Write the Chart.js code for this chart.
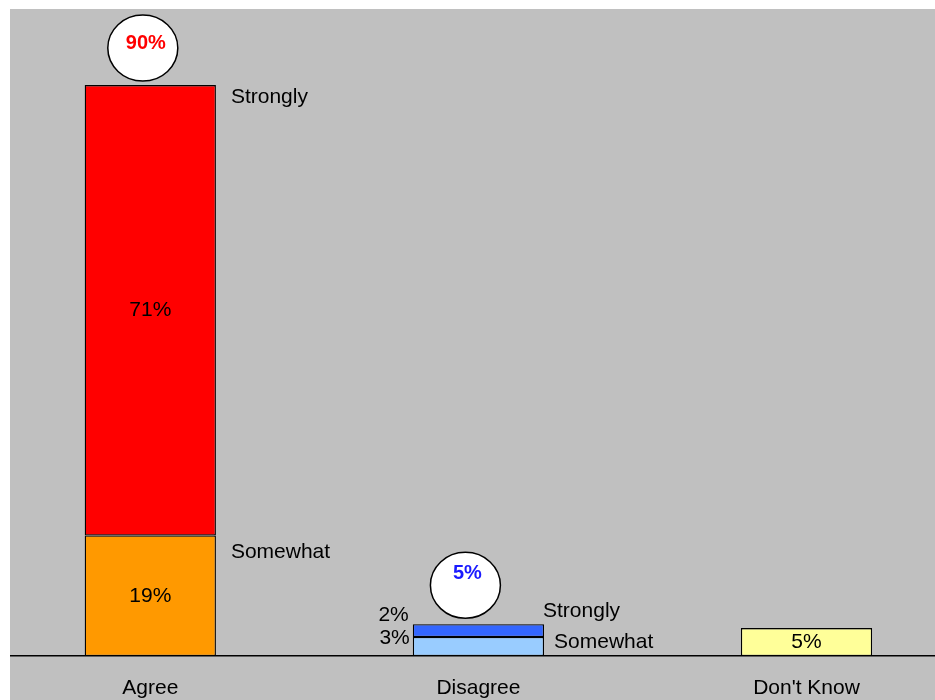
<!DOCTYPE html>
<html>
<head>
<meta charset="utf-8">
<script src="https://cdn.jsdelivr.net/npm/chart.js@4/dist/chart.umd.min.js"></script>
<style>
  html, body { margin: 0; padding: 0; background: #ffffff; width: 935px; height: 700px; overflow: hidden; }
  #wrap { position: absolute; left: 10px; top: 9px; width: 925px; height: 691px; background: #C0C0C0; }
  canvas { display: block; }
</style>
</head>
<body>
<div id="wrap"><canvas id="c" width="925" height="691"></canvas></div>
<script>
// ---- data ----
const categories = ['Agree', 'Disagree', "Don't Know"];
const somewhatValues = [19, 3, 4.4];
const stronglyValues = [71, 2, null];
const somewhatLabels = ['19%', '3%', '5%'];
const stronglyLabels = ['71%', '2%', ''];
const totalLabels = ['90%', '5%', ''];
const seriesNames = ['Somewhat', 'Strongly'];

const somewhatColors = ['#FF9900', '#99CCFF', '#FFFF99'];
const stronglyColors = ['#FF0000', '#3366FF', '#FF0000'];
const totalColors = ['#FF0000', '#1a1aff', '#000000'];

const FONT = '"Liberation Sans", Arial, Helvetica, sans-serif';

const labelPlugin = {
  id: 'labels',
  afterDatasetsDraw(chart) {
    const ctx = chart.ctx;
    const mSome = chart.getDatasetMeta(0).data;
    const mStr = chart.getDatasetMeta(1).data;
    ctx.save();
    ctx.fillStyle = '#000';
    ctx.textBaseline = 'middle';
    ctx.font = '21px ' + FONT;

    // Agree: inside values, names to the right
    {
      const s = mSome[0], t = mStr[0];
      ctx.textAlign = 'center';
      ctx.fillText(somewhatLabels[0], s.x, (s.y + s.base) / 2);
      ctx.fillText(stronglyLabels[0], t.x, (t.y + t.base) / 2);
      ctx.textAlign = 'left';
      const right = s.x + s.width / 2;
      ctx.fillText(seriesNames[1], right + 15, t.y + 12);
      ctx.fillText(seriesNames[0], right + 15, s.y + 17);
    }
    // Disagree: values to the left, names to the right
    {
      const s = mSome[1], t = mStr[1];
      const left = s.x - s.width / 2, right = s.x + s.width / 2;
      ctx.textAlign = 'right';
      ctx.fillText(stronglyLabels[1], left - 4, t.y - 9);
      ctx.fillText(somewhatLabels[1], left - 3, s.y + 1);
      ctx.textAlign = 'left';
      ctx.fillText(seriesNames[1], right - 1, t.y - 13);
      ctx.fillText(seriesNames[0], right + 10, s.y + 5);
    }
    // Don't Know: inside
    {
      const s = mSome[2];
      ctx.textAlign = 'center';
      ctx.fillText(somewhatLabels[2], s.x, (s.y + s.base) / 2);
    }
    // total circles
    const circ = [
      { el: mStr[0], dx: -7.5, dy: -37, tx: 3, ty: -5 },
      { el: mStr[1], dx: -13, dy: -39, tx: 2, ty: -12 }
    ];
    circ.forEach((c, i) => {
      const cx = c.el.x + c.dx, cy = c.el.y + c.dy;
      ctx.beginPath();
      ctx.ellipse(cx, cy, 35, 33, 0, 0, Math.PI * 2);
      ctx.fillStyle = '#ffffff';
      ctx.fill();
      ctx.lineWidth = 1.5;
      ctx.strokeStyle = '#000';
      ctx.stroke();
      ctx.font = 'bold 20px ' + FONT;
      ctx.fillStyle = totalColors[i];
      ctx.textAlign = 'center';
      ctx.fillText(totalLabels[i], cx + c.tx, cy + c.ty);
    });
    ctx.restore();
  }
};

new Chart(document.getElementById('c'), {
  type: 'bar',
  data: {
    datasets: [
      {
        label: seriesNames[0],
        data: categories.map((c, i) => ({ x: i, y: somewhatValues[i] })),
        backgroundColor: somewhatColors,
        borderColor: '#000',
        borderWidth: 1.3,
        borderSkipped: false
      },
      {
        label: seriesNames[1],
        data: categories.map((c, i) => ({ x: i, y: stronglyValues[i] })),
        backgroundColor: stronglyColors,
        borderColor: '#000',
        borderWidth: 1.3,
        borderSkipped: false
      }
    ]
  },
  options: {
    responsive: false,
    animation: false,
    layout: { padding: 0 },
    barPercentage: 1,
    categoryPercentage: 0.4,
    plugins: { legend: { display: false }, tooltip: { enabled: false } },
    scales: {
      x: {
        type: 'linear',
        stacked: true,
        offset: false,
        min: -0.4276,
        max: 2.3916,
        afterBuildTicks(scale) { scale.ticks = categories.map((c, i) => ({ value: i })); },
        afterFit(scale) { scale.height = 44; },
        grid: { display: false, drawTicks: false },
        border: { display: true, color: '#000', width: 1.5 },
        ticks: {
          padding: 20,
          color: '#000',
          font: { family: FONT, size: 21 },
          maxRotation: 0,
          autoSkip: false,
          callback: (v) => categories[v] ?? ''
        }
      },
      y: {
        stacked: true,
        display: false,
        min: 0,
        max: 102
      }
    }
  },
  plugins: [labelPlugin]
});
</script>
</body>
</html>
